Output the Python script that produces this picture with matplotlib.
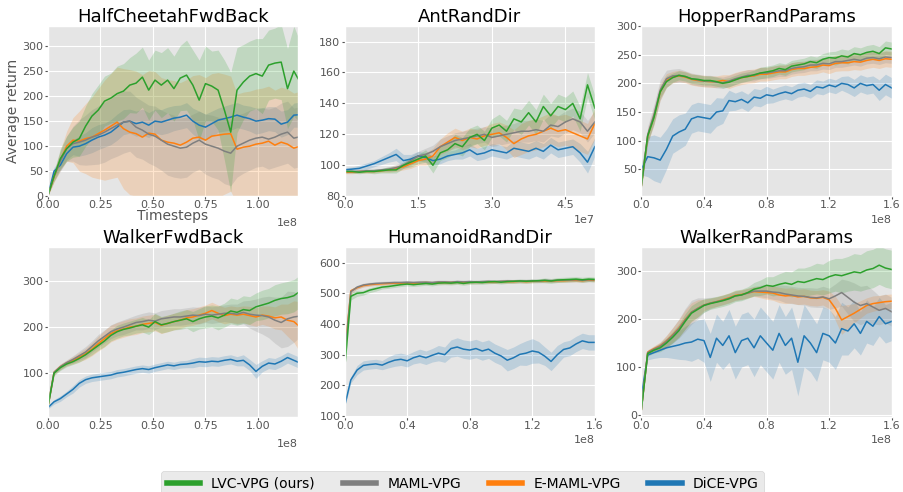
import numpy as np
import matplotlib
matplotlib.use('Agg')
import matplotlib.pyplot as plt
from matplotlib.lines import Line2D
from matplotlib.ticker import MultipleLocator

methods = ['LVC-VPG (ours)', 'MAML-VPG', 'E-MAML-VPG', 'DiCE-VPG']
colors = {'lvc': '#2ca02c', 'maml': '#7f7f7f', 'emaml': '#ff7f0e', 'dice': '#1f77b4'}
titles = ['HalfCheetahFwdBack', 'AntRandDir', 'HopperRandParams',
          'WalkerFwdBack', 'HumanoidRandDir', 'WalkerRandParams']

# --- HalfCheetahFwdBack (0 .. 1.2e8) ---
cheetah_lvc = [0, 40, 75, 95, 108, 115, 140, 160, 172, 190,
               196, 205, 210, 222, 226, 238, 212, 232, 222, 232,
               215, 236, 242, 222, 192, 225, 220, 212, 172, 128,
               212, 228, 240, 245, 240, 262, 266, 268, 215, 250,
               228]
cheetah_lvc_sd = [0, 10, 20, 25, 30, 35, 40, 45, 50, 50,
                  50, 55, 55, 55, 60, 60, 60, 60, 65, 65,
                  65, 65, 70, 70, 80, 75, 70, 80, 100, 120,
                  85, 75, 70, 70, 75, 70, 70, 75, 80, 90,
                  80]
cheetah_maml = [0, 40, 70, 95, 105, 108, 112, 118, 122, 128,
                135, 142, 148, 150, 138, 132, 124, 120, 112, 104,
                100, 96, 98, 106, 112, 104, 100, 96, 90, 86,
                100, 106, 112, 116, 118, 114, 118, 124, 128, 116,
                119]
cheetah_maml_sd = [0, 10, 20, 25, 35, 45, 50, 55, 58, 60,
                   60, 62, 62, 60, 60, 58, 58, 60, 60, 62,
                   62, 60, 60, 58, 58, 60, 62, 62, 65, 65,
                   62, 60, 60, 58, 58, 60, 60, 62, 62, 60,
                   60]
cheetah_emaml = [0, 38, 72, 100, 112, 110, 115, 118, 125, 132,
                 140, 148, 135, 128, 125, 118, 126, 124, 112, 108,
                 106, 102, 108, 116, 118, 112, 120, 122, 124, 125,
                 94, 98, 100, 104, 106, 110, 102, 108, 104, 96,
                 100]
cheetah_emaml_sd = [0, 10, 20, 30, 45, 60, 70, 80, 90, 100,
                    105, 110, 120, 125, 125, 125, 125, 125, 125, 125,
                    125, 125, 125, 125, 125, 125, 125, 125, 120, 115,
                    110, 110, 110, 110, 110, 110, 110, 110, 110, 110,
                    110]
cheetah_dice = [0, 50, 62, 85, 98, 100, 105, 112, 118, 122,
                128, 138, 148, 150, 145, 148, 142, 150, 148, 152,
                156, 158, 162, 150, 142, 138, 145, 152, 155, 158,
                162, 158, 155, 150, 152, 155, 154, 144, 148, 162,
                163]
cheetah_dice_sd = [0, 8, 10, 12, 15, 20, 22, 25, 25, 24,
                   25, 26, 25, 24, 25, 26, 25, 24, 25, 26,
                   25, 24, 25, 26, 28, 26, 25, 24, 25, 26,
                   25, 24, 25, 26, 25, 24, 25, 26, 25, 24,
                   25]

# --- AntRandDir (0 .. 5.1e7) ---
ant_lvc = [96, 96, 95.5, 96, 96, 96.5, 97, 97, 100, 102,
           104, 106, 100, 108, 110, 114, 112, 118, 120, 116,
           124, 126, 122, 130, 128, 134, 128, 138, 132, 138,
           136, 140, 130, 152, 137]
ant_lvc_sd = [1, 1, 1, 1, 1.5, 1.5, 2, 2, 2, 3,
              3, 4, 5, 5, 5, 6, 6, 6, 6, 6,
              6, 7, 7, 7, 8, 8, 8, 8, 8, 8,
              8, 8, 8, 8, 8]
ant_maml = [96, 96, 96, 96.5, 96.5, 97, 97.5, 98.5, 100, 103,
            106, 107, 109, 112, 114, 116, 117, 118, 119, 120,
            118, 119, 120, 121, 122, 122, 123, 122, 126, 125,
            128, 130, 128, 122, 128]
ant_maml_sd = [1, 1, 1, 1, 1, 1, 1.5, 2, 2, 3,
               3, 4, 4, 5, 5, 5, 5, 5, 5, 5,
               6, 6, 6, 6, 7, 7, 7, 7, 7, 7,
               7, 7, 7, 7, 7]
ant_emaml = [95.5, 95.5, 96, 96, 96, 96.5, 97, 98, 99, 101,
             103, 104, 106, 112, 115, 118, 116, 118, 117, 119,
             120, 121, 118, 114, 117, 119, 120, 122, 124, 122,
             123, 121, 119, 117, 127]
ant_emaml_sd = [1, 1, 1, 1, 1, 1, 1.5, 2, 2, 3,
                3, 4, 5, 5, 6, 6, 6, 6, 6, 6,
                7, 7, 8, 9, 10, 10, 10, 10, 10, 10,
                10, 10, 10, 10, 10]
ant_dice = [97, 97.5, 98, 99.5, 101, 103, 105, 107, 103, 104,
            106, 105, 103, 104, 106, 107, 108, 110, 107, 108,
            110, 109, 108, 111, 110, 109, 111, 109, 113, 110,
            111, 112, 108, 102, 112]
ant_dice_sd = [1.5, 1.5, 2, 2, 2, 2.5, 3, 4, 4, 3,
               3, 3, 3, 3, 3, 3, 4, 4, 4, 4,
               4, 4, 4, 5, 5, 5, 5, 5, 5, 5,
               5, 5, 6, 7, 6]

# --- HopperRandParams (0 .. 1.6e8) ---
hopper_lvc = [22, 108, 140, 185, 203, 210, 214, 212, 208, 207,
              205, 205, 203, 200, 202, 206, 210, 212, 215, 218,
              220, 222, 226, 224, 230, 232, 234, 238, 236, 242,
              245, 244, 248, 246, 252, 250, 254, 256, 252, 262,
              260]
hopper_lvc_sd = [5, 10, 10, 10, 10, 8, 8, 8, 8, 8,
                 8, 8, 8, 8, 8, 8, 8, 8, 8, 10,
                 10, 10, 10, 10, 10, 10, 10, 10, 10, 10,
                 10, 12, 12, 12, 12, 12, 12, 12, 12, 12,
                 12]
hopper_maml = [22, 110, 145, 188, 208, 213, 214, 212, 208, 206,
               204, 204, 202, 201, 204, 208, 211, 214, 214, 218,
               218, 220, 222, 222, 226, 228, 229, 232, 232, 235,
               234, 238, 238, 240, 242, 240, 244, 245, 243, 246,
               245]
hopper_maml_sd = [5, 15, 18, 18, 15, 12, 12, 10, 10, 10,
                  10, 10, 10, 10, 10, 10, 10, 10, 10, 10,
                  10, 10, 10, 10, 10, 10, 10, 10, 10, 10,
                  10, 10, 10, 10, 10, 10, 10, 10, 10, 10,
                  10]
hopper_emaml = [22, 108, 142, 185, 205, 211, 213, 211, 207, 205,
                204, 203, 203, 205, 203, 207, 210, 212, 213, 216,
                216, 218, 220, 220, 224, 226, 226, 228, 229, 232,
                231, 235, 236, 236, 238, 237, 240, 242, 240, 243,
                242]
hopper_emaml_sd = [5, 12, 14, 14, 12, 10, 10, 10, 10, 10,
                   10, 10, 10, 10, 12, 12, 12, 12, 12, 12,
                   12, 12, 12, 12, 12, 12, 12, 12, 12, 12,
                   14, 14, 14, 14, 14, 14, 14, 14, 14, 14,
                   14]
hopper_dice = [50, 72, 70, 66, 85, 108, 115, 120, 138, 142,
               140, 138, 150, 152, 170, 168, 172, 166, 176, 174,
               180, 178, 182, 185, 182, 188, 190, 186, 194, 192,
               197, 194, 200, 198, 192, 200, 196, 198, 188, 198,
               192]
hopper_dice_sd = [10, 35, 40, 40, 35, 30, 30, 28, 25, 25,
                  25, 25, 25, 22, 18, 15, 15, 15, 15, 15,
                  15, 12, 12, 12, 12, 12, 12, 12, 12, 12,
                  12, 12, 12, 15, 15, 15, 15, 15, 18, 18,
                  18]

# --- WalkerFwdBack (0 .. 1.2e8) ---
wfb_lvc = [25, 100, 112, 120, 125, 132, 140, 150, 160, 170,
           182, 190, 195, 198, 202, 205, 200, 212, 205, 208,
           212, 215, 218, 212, 218, 222, 224, 220, 226, 235,
           232, 238, 236, 244, 248, 252, 258, 262, 264, 268,
           278]
wfb_lvc_sd = [3, 5, 6, 6, 6, 8, 8, 10, 10, 12,
              12, 14, 14, 15, 15, 16, 16, 18, 18, 18,
              18, 20, 20, 22, 22, 24, 24, 26, 26, 28,
              28, 30, 30, 30, 32, 32, 34, 34, 35, 35,
              35]
wfb_maml = [25, 102, 114, 123, 130, 138, 146, 158, 170, 180,
            190, 196, 200, 205, 210, 212, 215, 213, 218, 220,
            222, 222, 224, 226, 225, 228, 226, 228, 230, 230,
            228, 232, 228, 226, 225, 222, 215, 210, 218, 222,
            224]
wfb_maml_sd = [3, 5, 6, 6, 8, 10, 12, 12, 14, 14,
               15, 15, 16, 16, 16, 18, 18, 18, 18, 18,
               18, 18, 18, 18, 18, 18, 18, 18, 18, 20,
               22, 25, 30, 35, 40, 45, 50, 55, 60, 55,
               45]
wfb_emaml = [25, 102, 114, 122, 128, 135, 142, 152, 164, 175,
             186, 192, 196, 200, 202, 206, 208, 210, 204, 208,
             212, 215, 220, 222, 226, 230, 236, 230, 225, 228,
             226, 228, 225, 222, 226, 224, 220, 222, 215, 212,
             200]
wfb_emaml_sd = [3, 5, 6, 6, 8, 10, 12, 14, 16, 18,
                18, 18, 18, 18, 18, 18, 18, 18, 18, 18,
                18, 18, 18, 18, 18, 18, 18, 18, 18, 18,
                18, 18, 20, 20, 20, 22, 24, 28, 35, 45,
                55]
wfb_dice = [25, 38, 45, 55, 65, 78, 86, 90, 92, 94,
            96, 100, 102, 105, 108, 110, 108, 112, 115, 118,
            116, 119, 120, 122, 125, 124, 126, 125, 128, 130,
            126, 128, 118, 104, 115, 122, 120, 126, 134, 128,
            122]
wfb_dice_sd = [3, 5, 6, 6, 8, 8, 8, 8, 8, 8,
               8, 8, 8, 8, 8, 8, 8, 8, 8, 8,
               8, 8, 8, 10, 10, 10, 10, 10, 10, 10,
               10, 12, 12, 15, 12, 12, 12, 12, 12, 12,
               12]

# --- HumanoidRandDir (0 .. 1.6e8) ---
hum_lvc = [250, 490, 500, 502, 510, 515, 520, 522, 525, 528,
           530, 528, 530, 532, 530, 533, 534, 533, 535, 532,
           535, 536, 535, 537, 538, 536, 538, 539, 540, 539,
           540, 541, 542, 540, 543, 544, 545, 546, 544, 546,
           545]
hum_lvc_sd = [10, 12, 10, 8, 8, 8, 6, 6, 6, 6,
              6, 6, 6, 6, 6, 6, 6, 6, 6, 6,
              6, 6, 6, 6, 6, 6, 6, 6, 6, 6,
              6, 6, 8, 8, 8, 8, 8, 8, 8, 8,
              8]
hum_maml = [290, 505, 520, 527, 530, 532, 533, 534, 535, 535,
            536, 535, 536, 536, 535, 537, 537, 536, 538, 537,
            538, 537, 538, 539, 538, 539, 540, 539, 540, 540,
            541, 540, 542, 541, 542, 543, 543, 544, 542, 544,
            544]
hum_maml_sd = [10, 8, 6, 6, 6, 6, 6, 6, 6, 6,
               6, 6, 6, 6, 6, 6, 6, 6, 6, 6,
               6, 6, 6, 6, 6, 6, 6, 6, 6, 6,
               6, 6, 6, 6, 6, 6, 6, 6, 6, 6,
               6]
hum_emaml = [300, 508, 518, 525, 528, 530, 531, 532, 533, 533,
             534, 533, 534, 535, 534, 535, 535, 535, 536, 535,
             536, 536, 537, 537, 537, 538, 538, 538, 539, 538,
             539, 540, 540, 540, 541, 541, 542, 542, 541, 543,
             542]
hum_emaml_sd = [10, 6, 5, 5, 5, 5, 5, 5, 5, 5,
                5, 5, 5, 5, 5, 5, 5, 5, 5, 5,
                5, 5, 5, 5, 5, 5, 5, 5, 5, 5,
                5, 5, 5, 5, 5, 5, 5, 5, 5, 5,
                5]
hum_dice = [132, 218, 250, 265, 268, 270, 266, 275, 282, 285,
            280, 290, 296, 290, 298, 305, 300, 320, 325, 318,
            315, 320, 312, 318, 305, 296, 282, 290, 301, 305,
            312, 308, 295, 278, 300, 317, 322, 335, 345, 340,
            340]
hum_dice_sd = [5, 10, 15, 15, 15, 15, 15, 18, 20, 20,
               20, 20, 22, 22, 22, 25, 25, 28, 30, 30,
               30, 30, 30, 30, 30, 30, 35, 35, 35, 40,
               40, 35, 30, 30, 30, 25, 25, 25, 25, 25,
               25]

# --- WalkerRandParams (0 .. 1.6e8) ---
wrp_lvc = [12, 128, 135, 140, 150, 162, 176, 195, 212, 220,
           228, 232, 235, 238, 242, 248, 250, 255, 262, 265,
           270, 268, 272, 275, 272, 278, 276, 280, 284, 282,
           288, 292, 290, 294, 298, 296, 302, 305, 312, 306,
           303]
wrp_lvc_sd = [3, 5, 6, 8, 10, 12, 14, 16, 16, 16,
              14, 12, 12, 12, 12, 12, 12, 12, 14, 16,
              18, 20, 22, 24, 26, 28, 30, 30, 32, 32,
              34, 34, 36, 36, 38, 38, 40, 40, 40, 40,
              40]
wrp_maml = [12, 130, 137, 143, 153, 166, 180, 198, 214, 222,
            229, 233, 236, 239, 243, 248, 250, 254, 258, 258,
            258, 256, 255, 252, 250, 248, 247, 245, 244, 246,
            242, 248, 255, 245, 235, 228, 232, 225, 218, 222,
            215]
wrp_maml_sd = [3, 5, 6, 8, 12, 16, 20, 24, 25, 22,
               15, 12, 10, 10, 10, 10, 10, 10, 10, 12,
               14, 15, 16, 18, 18, 18, 18, 20, 20, 22,
               22, 25, 28, 35, 40, 40, 38, 35, 30, 30,
               30]
wrp_emaml = [12, 131, 138, 144, 154, 167, 181, 199, 214, 222,
             229, 233, 236, 240, 244, 249, 251, 254, 257, 256,
             255, 254, 250, 248, 249, 246, 247, 244, 243, 245,
             240, 222, 198, 205, 212, 220, 228, 232, 234, 236,
             237]
wrp_emaml_sd = [3, 5, 6, 8, 12, 15, 18, 20, 20, 18,
                12, 10, 10, 10, 10, 10, 10, 10, 10, 12,
                14, 15, 16, 16, 16, 16, 16, 16, 16, 16,
                18, 25, 30, 25, 20, 18, 16, 16, 15, 15,
                15]
wrp_dice = [40, 125, 130, 135, 140, 143, 146, 150, 152, 158,
            155, 120, 160, 145, 165, 130, 155, 160, 140, 165,
            150, 135, 170, 145, 160, 110, 165, 150, 130, 170,
            165, 150, 180, 175, 190, 170, 195, 185, 205, 190,
            195]
wrp_dice_sd = [10, 10, 12, 15, 20, 25, 30, 35, 40, 40,
               45, 50, 50, 50, 55, 55, 55, 55, 60, 60,
               60, 60, 60, 60, 65, 70, 65, 60, 60, 55,
               55, 55, 55, 50, 50, 45, 45, 40, 40, 40,
               40]


def plot_panel(ax, title, series, xend, xlim, ylim, xstep, ystep):
    # draw order: DiCE, E-MAML, MAML, LVC (ours on top)
    for key in ['dice', 'emaml', 'maml', 'lvc']:
        mean, sd = series[key]
        mean = np.array(mean, dtype=float)
        sd = np.array(sd, dtype=float)
        x = np.linspace(0, xend, len(mean))
        ax.fill_between(x, mean - sd, mean + sd, color=colors[key],
                        alpha=0.2, linewidth=0)
        ax.plot(x, mean, color=colors[key], linewidth=1.1)
    ax.set_title(title, fontsize=13, pad=2)
    ax.set_xlim(*xlim)
    ax.set_ylim(*ylim)
    ax.xaxis.set_major_locator(MultipleLocator(xstep))
    ax.yaxis.set_major_locator(MultipleLocator(ystep))
    ax.tick_params(labelsize=8, length=2, pad=1)
    ax.xaxis.get_offset_text().set_fontsize(8)


def main():
    plt.style.use('ggplot')
    fig, axes = plt.subplots(2, 3, figsize=(9.04, 4.92), dpi=100)
    fig.subplots_adjust(left=0.0528, right=0.9864, bottom=0.1524,
                        top=0.947, wspace=0.186, hspace=0.298)
    axes = axes.ravel()

    panels = [
        ({'lvc': (cheetah_lvc, cheetah_lvc_sd), 'maml': (cheetah_maml, cheetah_maml_sd),
          'emaml': (cheetah_emaml, cheetah_emaml_sd), 'dice': (cheetah_dice, cheetah_dice_sd)},
         1.2e8, (0, 1.19e8), (0, 340), 0.25e8, 50),
        ({'lvc': (ant_lvc, ant_lvc_sd), 'maml': (ant_maml, ant_maml_sd),
          'emaml': (ant_emaml, ant_emaml_sd), 'dice': (ant_dice, ant_dice_sd)},
         5.1e7, (0, 5.1e7), (80, 190), 1.5e7, 20),
        ({'lvc': (hopper_lvc, hopper_lvc_sd), 'maml': (hopper_maml, hopper_maml_sd),
          'emaml': (hopper_emaml, hopper_emaml_sd), 'dice': (hopper_dice, hopper_dice_sd)},
         1.6e8, (0, 1.6e8), (3, 300), 0.4e8, 50),
        ({'lvc': (wfb_lvc, wfb_lvc_sd), 'maml': (wfb_maml, wfb_maml_sd),
          'emaml': (wfb_emaml, wfb_emaml_sd), 'dice': (wfb_dice, wfb_dice_sd)},
         1.2e8, (0, 1.19e8), (5, 374), 0.25e8, 100),
        ({'lvc': (hum_lvc, hum_lvc_sd), 'maml': (hum_maml, hum_maml_sd),
          'emaml': (hum_emaml, hum_emaml_sd), 'dice': (hum_dice, hum_dice_sd)},
         1.6e8, (0, 1.6e8), (97, 651), 0.4e8, 100),
        ({'lvc': (wrp_lvc, wrp_lvc_sd), 'maml': (wrp_maml, wrp_maml_sd),
          'emaml': (wrp_emaml, wrp_emaml_sd), 'dice': (wrp_dice, wrp_dice_sd)},
         1.6e8, (0, 1.6e8), (-4, 350), 0.4e8, 100),
    ]

    for ax, title, (series, xend, xlim, ylim, xstep, ystep) in zip(axes, titles, panels):
        plot_panel(ax, title, series, xend, xlim, ylim, xstep, ystep)

    axes[0].set_ylabel('Average return', fontsize=10, labelpad=2)
    axes[0].set_xlabel('Timesteps', fontsize=10, labelpad=-1)
    axes[0].xaxis.set_major_formatter(plt.FuncFormatter(lambda v, p: f'{v / 1e8:.2f}'))
    axes[3].xaxis.set_major_formatter(plt.FuncFormatter(lambda v, p: f'{v / 1e8:.2f}'))
    for i in (0, 3):
        axes[i].text(1.0, -0.13, '1e8', transform=axes[i].transAxes, ha='right',
                     va='top', fontsize=8, color='#555555')

    handles = [Line2D([0], [0], color=colors[k], linewidth=4)
               for k in ['lvc', 'maml', 'emaml', 'dice']]
    fig.legend(handles, methods, loc='upper center', ncol=4, fontsize=10,
               bbox_to_anchor=(0.512, 0.0427), borderaxespad=0,
               columnspacing=2.0, handlelength=2.4, frameon=True,
               edgecolor='#cccccc')

    fig.savefig('out.png', dpi=100)


if __name__ == "__main__":
    main()
